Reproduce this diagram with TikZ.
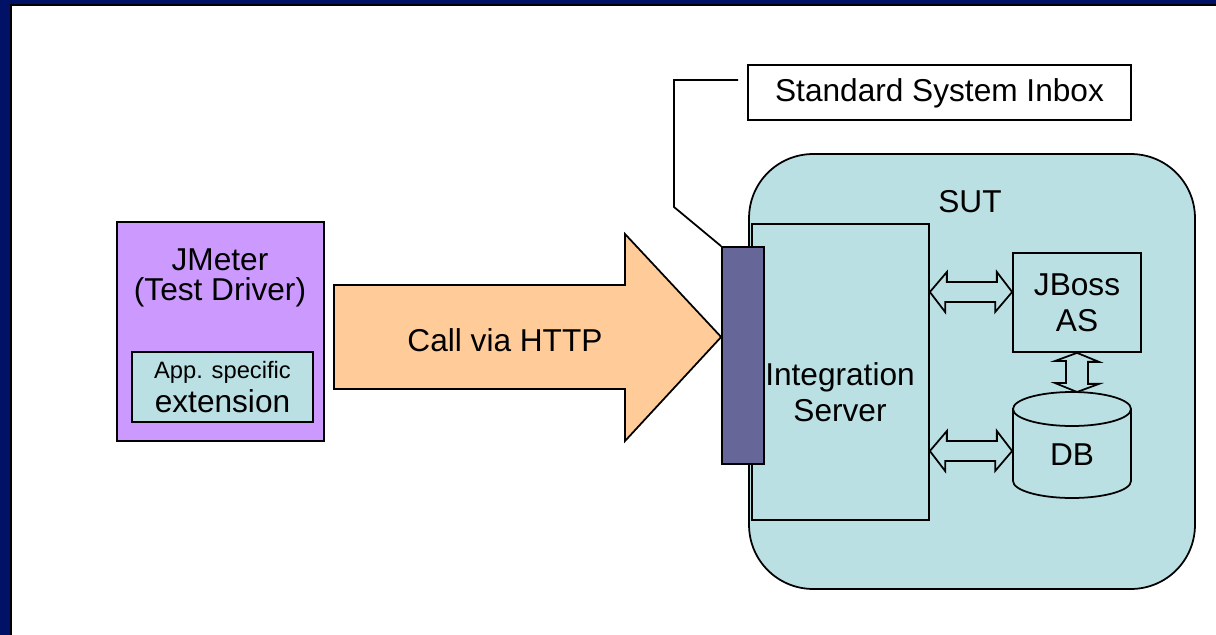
\documentclass[tikz,border=0pt]{standalone}
\usepackage{fontspec}
\setmainfont{Liberation Sans}
\usetikzlibrary{calc}

\definecolor{slidenavy}{RGB}{0,17,102}
\definecolor{jmpurple}{RGB}{204,153,255}
\definecolor{sutteal}{RGB}{187,224,227}
\definecolor{callorange}{RGB}{255,204,153}
\definecolor{inboxblue}{RGB}{102,102,153}

\begin{document}
\begin{tikzpicture}[x=0.02cm, y=-0.02cm, line width=1pt,
  box/.style={draw, rectangle, inner sep=0pt},
  txt/.style={font=\fontsize{18}{20.5}\selectfont, align=center},
  dblarrow/.style={draw, fill=sutteal, line join=miter}]
% slide frame
\useasboundingbox (0,0) rectangle (1216,635);
\fill[slidenavy] (0,0) rectangle (1216,635);
\fill[white] (12,6) rectangle (1216,635);
\draw[line width=1.2pt] (11,635) -- (11,5) -- (1216,5);

% test driver
\node[box, fill=jmpurple, minimum width=4.14cm, minimum height=4.38cm] (jmeter) at (220.5,331.5) {};
\node[txt, font=\fontsize{18}{17.5}\selectfont] (jmlabel) at (220,278) {JMeter\\(Test Driver)};
\node[box, fill=sutteal, minimum width=3.62cm, minimum height=1.4cm, align=center] (ext) at (222.5,387)
  {\fontsize{13.5}{16}\selectfont App. specific\\[3pt]\fontsize{18}{18}\selectfont extension};

% SUT
\node[box, fill=sutteal, rounded corners=1.28cm, minimum width=8.92cm, minimum height=8.7cm] (sut) at (972,371.5) {};
\node[txt] (sutlabel) at (970,202) {SUT};
\node[box, fill=sutteal, minimum width=3.54cm, minimum height=5.92cm] (isrv) at (840.5,372) {};
\node[txt] (isrvlabel) at (840,392) {Integration\\Server};
\node[box, fill=sutteal, minimum width=2.56cm, minimum height=1.98cm, txt] (jboss) at (1077,302.5) {JBoss\\AS};

% database
\draw[fill=sutteal] (1013,409) -- (1013,481) arc[start angle=180, end angle=360, x radius=1.18cm, y radius=0.34cm]
  -- (1131,409) arc[start angle=0, end angle=180, x radius=1.18cm, y radius=0.34cm] -- cycle;
\draw (1013,409) arc[start angle=180, end angle=360, x radius=1.18cm, y radius=0.34cm];
\coordinate (dbtop) at (1072,392);
\node[txt] (db) at (1072,455) {DB};

% inbox
\node[box, fill=inboxblue, minimum width=0.84cm, minimum height=4.34cm] (bar) at (743,355.5) {};
\node[box, txt, minimum width=7.66cm, minimum height=1.1cm, text depth=0.3em] (inbox) at (939.5,92.5) {Standard System Inbox};
\draw (738,80) -- (674,80) -- (674,207) -- (bar.north west);

% call arrow
\draw[fill=callorange, line join=miter] (334,285) -- (625,285) -- (625,234) -- (bar.west |- 0,337)
  -- (625,441) -- (625,389) -- (334,389) -- cycle;
\node[txt] (call) at (505,340) {Call via HTTP};

% double arrows
\draw[dblarrow] (isrv.east |- 0,292) -- ++(17,-20) -- ++(0,10) -- ++(50,0) -- ++(0,-10)
  -- (jboss.west |- 0,292) -- ++(-17,20) -- ++(0,-10) -- ++(-50,0) -- ++(0,10) -- cycle;
\draw[dblarrow] (isrv.east |- 0,451) -- ++(17,-20) -- ++(0,10) -- ++(50,0) -- ++(0,-10)
  -- (jboss.west |- 0,451) -- ++(-17,20) -- ++(0,-10) -- ++(-50,0) -- ++(0,10) -- cycle;
\draw[dblarrow] (jboss.south) -- ++(22,9) -- ++(-11,0) -- ++(0,22) -- ++(11,0)
  -- (jboss.south |- dbtop) -- ++(-22,-9) -- ++(11,0) -- ++(0,-22) -- ++(-11,0) -- cycle;

\end{tikzpicture}
\end{document}
